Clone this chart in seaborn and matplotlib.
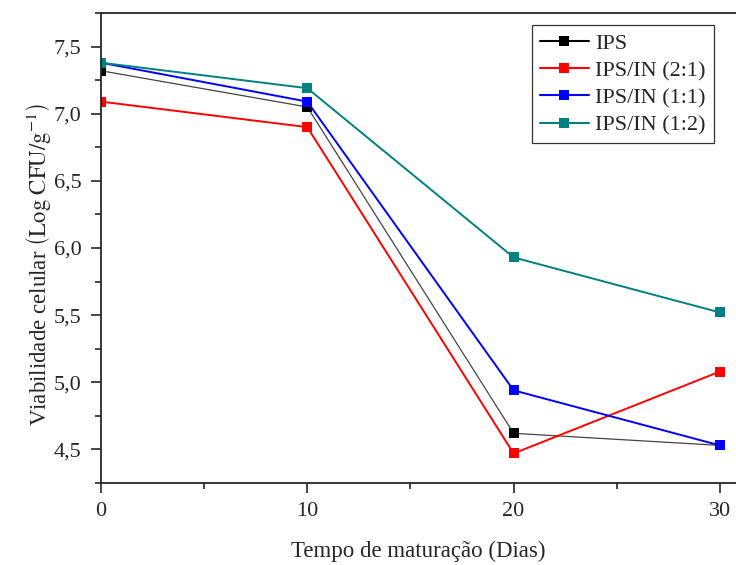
import pandas as pd
import matplotlib.pyplot as plt
import seaborn as sns
from matplotlib.ticker import MultipleLocator, FuncFormatter

# data
dias = [0, 10, 20, 30]
ips = [7.32, 7.05, 4.62, 4.53]
ips_in_21 = [7.09, 6.90, 4.47, 5.08]
ips_in_11 = [7.38, 7.09, 4.94, 4.53]
ips_in_12 = [7.38, 7.19, 5.93, 5.52]
series = ['IPS', 'IPS/IN (2:1)', 'IPS/IN (1:1)', 'IPS/IN (1:2)']
cores = ['black', '#ff0000', '#0000ff', '#008080']

df = pd.DataFrame({
    'dias': dias * 4,
    'valor': ips + ips_in_21 + ips_in_11 + ips_in_12,
    'amostra': [s for s in series for _ in dias],
})

sns.set_style('ticks')
plt.rcParams['font.family'] = ['Liberation Serif', 'DejaVu Serif']
plt.rcParams['mathtext.fontset'] = 'stix'

fig = plt.figure(figsize=(7.36, 5.65), dpi=100)
ax = fig.add_axes([101 / 736, 1 - 483 / 565, 1 - 101 / 736, 470 / 565])

sns.lineplot(data=df, x='dias', y='valor', hue='amostra', hue_order=series,
             palette=cores, marker='s', markersize=7, markeredgewidth=0,
             dashes=False, ax=ax)

# thinner grey line for IPS like the original
ax.lines[0].set_linewidth(0.9)
ax.lines[0].set_color('#444444')
ax.lines[0].set_markerfacecolor('black')
for ln in ax.lines[1:4]:
    ln.set_linewidth(1.4)

ax.set_xlim(0, 30.78)
ax.set_ylim(4.25, 7.75)
ax.xaxis.set_major_locator(MultipleLocator(10))
ax.xaxis.set_minor_locator(MultipleLocator(5))
ax.yaxis.set_major_locator(MultipleLocator(0.5))
ax.yaxis.set_minor_locator(MultipleLocator(0.25))
ax.yaxis.set_major_formatter(FuncFormatter(lambda v, p: f'{v:.1f}'.replace('.', ',')))
ax.tick_params(which='major', direction='out', length=7, width=1.2, labelsize=16, pad=7)
ax.tick_params(which='minor', direction='out', length=4.5, width=1.2)
for side in ['left', 'bottom', 'top']:
    ax.spines[side].set_linewidth(1.3)
ax.spines['right'].set_visible(False)

ax.set_xlabel('Tempo de maturação (Dias)', fontsize=16.5, labelpad=14)
ax.set_ylabel(r'Viabilidade celular $\left(\mathrm{Log\ CFU/g^{-1}}\right)$',
              fontsize=16.5)
ax.yaxis.set_label_coords(-0.075, 0.466)

h, l = ax.get_legend_handles_labels()
for hh in h:
    hh.set_markeredgewidth(0)
leg = ax.legend(h, l, loc='upper right', bbox_to_anchor=(0.972, 0.983),
                fontsize=16, frameon=True, fancybox=False, handlelength=2.2,
                borderpad=0.35, labelspacing=0.3, handletextpad=0.3,
                borderaxespad=0.2)
leg.get_frame().set_edgecolor('black')
leg.get_frame().set_linewidth(0.9)

plt.savefig('out.png', dpi=100)
